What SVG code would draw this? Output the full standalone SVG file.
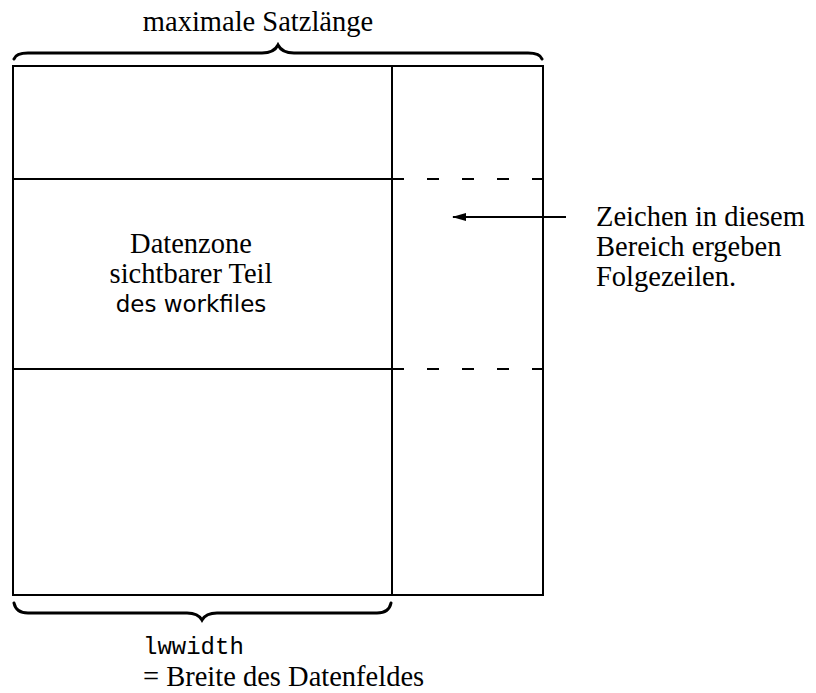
<svg xmlns="http://www.w3.org/2000/svg" width="816" height="693" viewBox="0 0 816 693">
<style>
.ln{stroke:#000;stroke-width:2;fill:none}
.br{stroke:#000;stroke-width:3;fill:none;stroke-linecap:round}
.dash{stroke:#000;stroke-width:2;fill:none;stroke-dasharray:12 23}
.serif{font-family:"Liberation Serif","Times New Roman",serif;font-size:28.5px;fill:#000}
.sans{font-family:"DejaVu Sans","Liberation Sans",sans-serif;font-size:23px;fill:#000}
.mono{font-family:"Liberation Mono","Courier New",monospace;font-size:24px;fill:#000}
</style>
<defs>
<marker id="ah" markerWidth="14" markerHeight="10" refX="13" refY="5" orient="auto" markerUnits="userSpaceOnUse">
<path d="M0,1 L14,5 L0,9 Z" fill="#000"/>
</marker>
</defs>
<g id="record">
<rect class="ln" x="13" y="66" width="530" height="529"/>
<line class="ln" x1="392" y1="66" x2="392" y2="595"/>
<line class="ln" x1="13" y1="179" x2="392" y2="179"/>
<line class="ln" x1="13" y1="369" x2="392" y2="369"/>
</g>
<g id="datenzone">
<text class="serif" x="191" y="253" text-anchor="middle">Datenzone</text>
<text class="serif" x="191" y="283" text-anchor="middle">sichtbarer Teil</text>
<text class="sans" x="191" y="312" text-anchor="middle">des workfiles</text>
</g>
<g id="top-brace">
<path class="br" d="M14,59 Q16,53 28,53 L262,53 Q274,53 278,45 Q282,53 294,53 L528,53 Q540,53 542,59"/>
<text class="serif" x="258" y="31" text-anchor="middle">maximale Satzlänge</text>
</g>
<g id="bottom-brace">
<path class="br" d="M14,603 Q16,613 28,613 L187,613 Q198,613 202,620 Q206,613 217,613 L377,613 Q389,613 391,603"/>
<text class="mono" x="143" y="654">lwwidth</text>
<text class="serif" x="143" y="686">= Breite des Datenfeldes</text>
</g>
<g id="note">
<text class="serif" x="596" y="226">Zeichen in diesem</text>
<text class="serif" x="596" y="256">Bereich ergeben</text>
<text class="serif" x="596" y="286">Folgezeilen.</text>
</g>
<g id="connectors">
<line class="dash" x1="392" y1="179" x2="543" y2="179"/>
<line class="dash" x1="392" y1="369" x2="543" y2="369"/>
<line class="ln" x1="566" y1="217" x2="453" y2="217" marker-end="url(#ah)"/>
</g>
</svg>
